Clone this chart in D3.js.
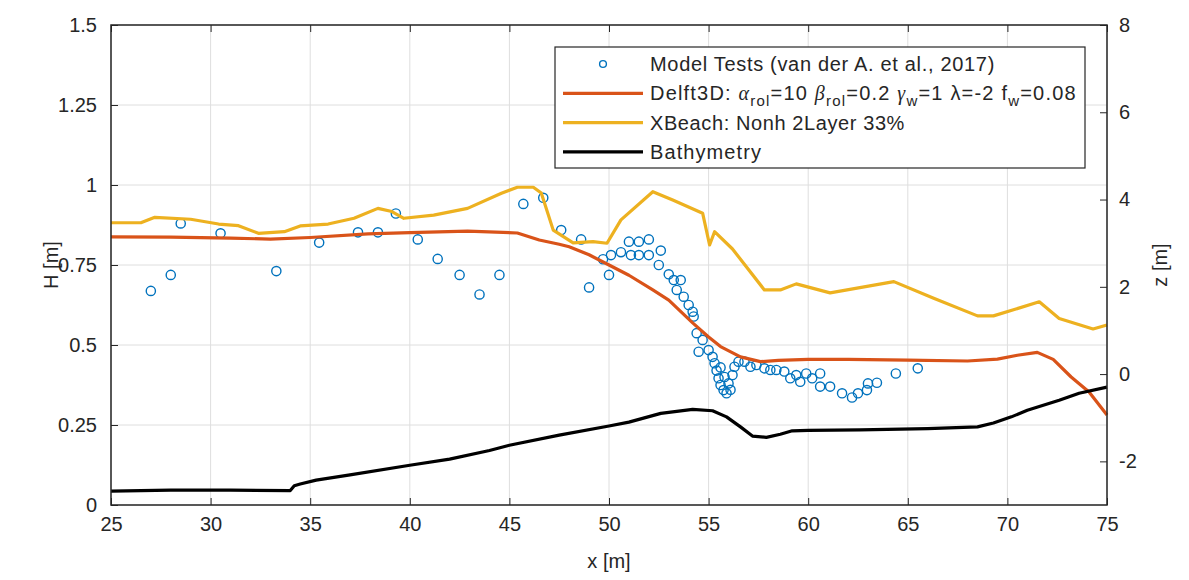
<!DOCTYPE html>
<html>
<head>
<meta charset="utf-8">
<script src="https://cdn.jsdelivr.net/npm/d3@7"></script>
<style>
    body { margin: 0; background: #fff; }
    text { font-family: "Liberation Sans", Arial, sans-serif; fill: #262626; }
</style>
</head>
<body>
<div id="chart"></div>
<script>
// Model tests (van der A. et al., 2017)
const testX = [27.0, 28.0, 28.5, 30.5, 33.3, 35.45, 37.4, 38.4, 39.3, 40.4, 41.4, 42.5, 43.5, 44.5, 45.7, 46.7,
    47.6, 48.6, 49.0, 49.7, 50.0, 50.1, 50.6, 51.0, 51.1, 51.5, 51.5, 52.0, 52.0, 52.6, 52.5, 53.0, 53.25, 53.6,
    53.4, 53.75, 54.0, 54.2, 54.25, 54.4, 54.7, 54.5, 55.0, 55.2, 55.3, 55.4, 55.5, 55.6, 55.6, 55.75, 55.8, 55.9,
    56.0, 56.1, 56.2, 56.3, 56.5, 56.8, 57.1, 57.4, 57.8, 58.1, 58.4, 58.8, 59.1, 59.4, 59.6, 59.9, 60.2, 60.6,
    60.6, 61.1, 61.7, 62.2, 62.5, 62.95, 63.0, 63.45, 64.4, 65.5];
const testH = [0.669, 0.719, 0.880, 0.849, 0.731, 0.820, 0.852, 0.852, 0.911, 0.830, 0.769, 0.719, 0.658, 0.719, 0.941, 0.960,
    0.859, 0.830, 0.680, 0.768, 0.719, 0.781, 0.790, 0.823, 0.781, 0.823, 0.781, 0.830, 0.781, 0.795, 0.750, 0.721, 0.703, 0.703,
    0.672, 0.651, 0.625, 0.604, 0.589, 0.537, 0.516, 0.479, 0.484, 0.463, 0.443, 0.420, 0.396, 0.375, 0.430, 0.359, 0.400, 0.349,
    0.380, 0.360, 0.406, 0.432, 0.448, 0.448, 0.432, 0.4375, 0.427, 0.422, 0.422, 0.417, 0.396, 0.406, 0.385, 0.411, 0.396, 0.411,
    0.370, 0.370, 0.349, 0.336, 0.349, 0.359, 0.380, 0.382, 0.411, 0.427];

// Delft3D
const delftX = [25, 28, 31, 33, 35, 37.9, 40, 42.9, 45.4, 46.5, 47.5, 48, 49, 50, 51, 52.2, 53, 54.2, 55, 55.6, 56.6,
    57.6, 58.5, 60, 62, 65, 68, 69.5, 70.5, 71.5, 72.3, 73.2, 74.1, 75];
const delftH = [0.838, 0.837, 0.834, 0.831, 0.836, 0.847, 0.851, 0.856, 0.850, 0.828, 0.815, 0.807, 0.782, 0.750, 0.718, 0.672, 0.640, 0.569, 0.525, 0.495, 0.463,
    0.448, 0.452, 0.455, 0.455, 0.453, 0.450, 0.456, 0.468, 0.477, 0.455, 0.400, 0.353, 0.281];

// XBeach
const xbeachX = [25, 26.5, 27.2, 29, 30.4, 31.4, 32.4, 33.7, 34.5, 35.9, 37.2, 38.4, 39.1, 39.7, 41.2, 42.9, 44.6, 45.4,
    46.2, 46.6, 47.2, 48.2, 49.2, 49.9, 50.6, 52.2, 53.2, 54.7, 55.05, 55.3, 56.2, 57.8, 58.6, 59.4, 61.1, 64.3, 66.3,
    68.5, 69.3, 71.6, 72.6, 74.3, 75];
const xbeachH = [0.882, 0.882, 0.899, 0.893, 0.878, 0.873, 0.849, 0.854, 0.872, 0.878, 0.896, 0.927, 0.917, 0.896, 0.906, 0.927, 0.974, 0.993,
    0.993, 0.975, 0.859, 0.819, 0.823, 0.818, 0.891, 0.979, 0.953, 0.912, 0.8125, 0.854, 0.800, 0.672, 0.672, 0.691, 0.663, 0.698, 0.646,
    0.591, 0.591, 0.635, 0.583, 0.550, 0.5625];

// Bathymetry (right axis)
const bathyX = [25, 28, 31, 34.0, 34.2, 34.5, 35.3, 37, 40, 42, 44, 45, 47.5, 50, 51, 52.6, 54.2, 55.2, 55.9, 56.6, 57.2,
    57.9, 58.6, 59.2, 60, 62.6, 66, 68.5, 69.3, 70.2, 71, 72.6, 73.6, 75];
const bathyZ = [-2.68, -2.66, -2.66, -2.67, -2.56, -2.52, -2.43, -2.31, -2.09, -1.95, -1.75, -1.63, -1.40, -1.19, -1.10, -0.90, -0.81, -0.84, -0.98, -1.21, -1.42,
    -1.45, -1.38, -1.30, -1.29, -1.28, -1.25, -1.21, -1.12, -0.98, -0.83, -0.60, -0.44, -0.30];

const xTicks = [25, 30, 35, 40, 45, 50, 55, 60, 65, 70, 75];
const hTicks = [0, 0.25, 0.5, 0.75, 1, 1.25, 1.5];
const zTicks = [-2, 0, 2, 4, 6, 8];

const blue = "#0072BD";
const orange = "#D95319";
const yellow = "#EDB120";
const axisColor = "#262626";
const gridColor = "#dedede";

const width = 1189;
const height = 580;
const plotL = 111, plotR = 1107, plotT = 25, plotB = 505;

const x = d3.scaleLinear().domain([25, 75]).range([plotL, plotR]);
const yH = d3.scaleLinear().domain([0, 1.5]).range([plotB, plotT]);
const yZ = d3.scaleLinear().domain([-3, 8]).range([plotB, plotT]);

const svg = d3.select("#chart")
    .append("svg")
    .attr("width", width)
    .attr("height", height);

svg.append("rect")
    .attr("width", width)
    .attr("height", height)
    .attr("fill", "#fff");

// Grid
svg.append("g")
    .selectAll("line")
    .data(xTicks)
    .enter()
    .append("line")
    .attr("x1", d => x(d)).attr("x2", d => x(d))
    .attr("y1", plotT).attr("y2", plotB)
    .attr("stroke", gridColor)
    .attr("stroke-width", 1);

svg.append("g")
    .selectAll("line")
    .data(hTicks)
    .enter()
    .append("line")
    .attr("x1", plotL).attr("x2", plotR)
    .attr("y1", d => yH(d)).attr("y2", d => yH(d))
    .attr("stroke", gridColor)
    .attr("stroke-width", 1);

// Model tests
svg.append("g")
    .attr("id", "tests")
    .selectAll("circle")
    .data(testX.map((d, i) => [d, testH[i]]))
    .enter()
    .append("circle")
    .attr("cx", d => x(d[0]))
    .attr("cy", d => yH(d[1]))
    .attr("r", 4.6)
    .attr("fill", "none")
    .attr("stroke", blue)
    .attr("stroke-width", 1.4);

const lineH = d3.line().x(d => x(d[0])).y(d => yH(d[1]));
const lineZ = d3.line().x(d => x(d[0])).y(d => yZ(d[1]));

svg.append("path")
    .attr("d", lineH(delftX.map((d, i) => [d, delftH[i]])))
    .attr("fill", "none")
    .attr("stroke", orange)
    .attr("stroke-width", 3.2)
    .attr("stroke-linejoin", "round");

svg.append("path")
    .attr("d", lineH(xbeachX.map((d, i) => [d, xbeachH[i]])))
    .attr("fill", "none")
    .attr("stroke", yellow)
    .attr("stroke-width", 3.2)
    .attr("stroke-linejoin", "round");

svg.append("path")
    .attr("d", lineZ(bathyX.map((d, i) => [d, bathyZ[i]])))
    .attr("fill", "none")
    .attr("stroke", "#000")
    .attr("stroke-width", 3.2)
    .attr("stroke-linejoin", "round");

// Axes
const fmtH = d => d === 0 ? "0" : String(d);

svg.append("g")
    .attr("transform", `translate(0,${plotB})`)
    .call(d3.axisBottom(x).tickValues(xTicks).tickSizeInner(-7).tickSizeOuter(0).tickPadding(12).tickFormat(d => String(d)))
    .call(g => g.select(".domain").remove());

svg.append("g")
    .attr("transform", `translate(0,${plotT})`)
    .call(d3.axisTop(x).tickValues(xTicks).tickSizeInner(-7).tickSizeOuter(0).tickFormat(""))
    .call(g => g.select(".domain").remove());

svg.append("g")
    .attr("transform", `translate(${plotL},0)`)
    .call(d3.axisLeft(yH).tickValues(hTicks).tickSizeInner(-7).tickSizeOuter(0).tickPadding(14).tickFormat(fmtH))
    .call(g => g.select(".domain").remove());

svg.append("g")
    .attr("transform", `translate(${plotR},0)`)
    .call(d3.axisRight(yZ).tickValues(zTicks).tickSizeInner(-7).tickSizeOuter(0).tickPadding(12).tickFormat(d => String(d)))
    .call(g => g.select(".domain").remove());

svg.selectAll(".tick line").attr("stroke", axisColor);
svg.selectAll(".tick text")
    .attr("font-size", 20)
    .style("font-family", '"Liberation Sans", Arial, sans-serif')
    .attr("fill", axisColor);

// Box
svg.append("rect")
    .attr("x", plotL).attr("y", plotT)
    .attr("width", plotR - plotL).attr("height", plotB - plotT)
    .attr("fill", "none")
    .attr("stroke", axisColor)
    .attr("stroke-width", 1.5);

// Axis labels
svg.append("text")
    .attr("x", (plotL + plotR) / 2).attr("y", 568)
    .attr("text-anchor", "middle")
    .attr("font-size", 20)
    .text("x [m]");

svg.append("text")
    .attr("transform", `translate(58,${(plotT + plotB) / 2}) rotate(-90)`)
    .attr("text-anchor", "middle")
    .attr("font-size", 20)
    .text("H [m]");

svg.append("text")
    .attr("transform", `translate(1167,${(plotT + plotB) / 2}) rotate(-90)`)
    .attr("text-anchor", "middle")
    .attr("font-size", 20)
    .text("z [m]");

// Legend
const legend = svg.append("g").attr("id", "legend");
legend.append("rect")
    .attr("x", 555).attr("y", 47)
    .attr("width", 530).attr("height", 121)
    .attr("fill", "#fff")
    .attr("stroke", axisColor)
    .attr("stroke-width", 1.2);

const rowY = i => 64 + i * 29.3;
const lx0 = 563, lx1 = 643, tx = 650;

legend.append("circle")
    .attr("cx", (lx0 + lx1) / 2).attr("cy", rowY(0))
    .attr("r", 3.4)
    .attr("fill", "none")
    .attr("stroke", blue)
    .attr("stroke-width", 1.4);

[orange, yellow, "#000"].forEach((c, i) => {
    legend.append("line")
        .attr("x1", lx0).attr("x2", lx1)
        .attr("y1", rowY(i + 1)).attr("y2", rowY(i + 1))
        .attr("stroke", c)
        .attr("stroke-width", 3.2);
});

const legendFont = 20;
// stretch a legend entry to the width it has in the figure
const fitWidth = (sel, w) => {
    const n = sel.node();
    const natural = n.getComputedTextLength();
    const chars = n.textContent.length;
    sel.attr("letter-spacing", Math.max(0, (w - natural) / chars));
};
const addRow = (i, txt, w) => {
    const t = legend.append("text")
        .attr("x", tx).attr("y", rowY(i))
        .attr("dy", "0.35em")
        .attr("font-size", legendFont)
        .text(txt);
    fitWidth(t, w);
};

addRow(0, "Model Tests (van der A. et al., 2017)", 345);

// Delft3D row with greek symbols and subscripts
const d3Row = legend.append("text")
    .attr("x", tx).attr("y", rowY(1))
    .attr("dy", "0.35em")
    .attr("font-size", legendFont);
const parts = [
    ["Delft3D: ", "n"], ["\u03b1", "g"], ["rol", "s"], ["=10 ", "n"], ["\u03b2", "g"], ["rol", "s"],
    ["=0.2 ", "n"], ["\u03b3", "g"], ["w", "s"], ["=1  \u03bb=-2 f", "n"], ["w", "s"], ["=0.08", "n"]
];
let sub = false;
parts.forEach(p => {
    const t = d3Row.append("tspan").text(p[0]);
    if (p[1] === "s") {
        t.attr("font-size", 15).attr("dy", 6);
        sub = true;
    } else {
        if (sub) t.attr("dy", -6);
        sub = false;
        if (p[1] === "g") t.attr("font-style", "italic").style("font-family", '"Liberation Serif", serif');
    }
});
fitWidth(d3Row, 428);

addRow(2, "XBeach: Nonh 2Layer 33%", 255);
addRow(3, "Bathymetry", 112);
</script>
</body>
</html>
